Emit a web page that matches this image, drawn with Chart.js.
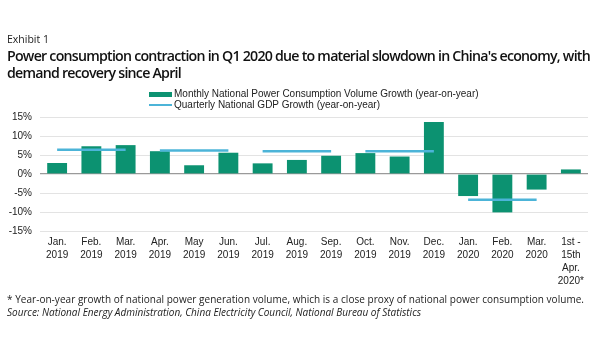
<!DOCTYPE html>
<html>
<head>
<meta charset="utf-8">
<script src="https://cdn.jsdelivr.net/npm/chart.js@4.4.1/dist/chart.umd.min.js"></script>
<style>
  html, body { margin: 0; padding: 0; background: #fff; }
  #wrap { position: relative; width: 600px; height: 360px; overflow: hidden; font-family: "Open Sans", "Lato", sans-serif; color: #000; }
  #chart { position: absolute; left: 0; top: 0; width: 600px; height: 360px; }
  .t { position: absolute; white-space: nowrap; }
  #exhibit { left: 7px; top: 32px; font-size: 10.5px; color: #222; }
  #title { left: 7px; top: 47px; font-size: 14.2px; font-weight: 600; line-height: 17px; color: #111; }
  .leg { position: absolute; left: 149px; font-family: "Liberation Sans", Arial, sans-serif; font-size: 10px; color: #222; white-space: nowrap; line-height: 11px; }
  .leg .sw { display: inline-block; width: 23px; vertical-align: middle; margin-right: 2px; }
  #foot1 { left: 7px; top: 292px; font-size: 10px; color: #222; }
  #foot2 { left: 7px; top: 305px; font-size: 10px; font-style: italic; color: #222; }
</style>
</head>
<body>
<div id="wrap">
  <canvas id="chart" width="600" height="360"></canvas>
  <div class="t" id="exhibit">Exhibit 1</div>
  <div class="t" id="title" data-fitchild="583"><span id="tl1">Power consumption contraction in Q1 2020 due to material slowdown in China's economy, with</span><br><span>demand recovery since April</span></div>
  <div class="leg" id="leg1" style="top:88px"></div>
  <div class="leg" id="leg2" style="top:99px"></div>
  <div class="t" id="foot1"><span data-fit="577">* Year-on-year growth of national power generation volume, which is a close proxy of national power consumption volume.</span></div>
  <div class="t" id="foot2"><span data-fit="414">Source: National Energy Administration, China Electricity Council, National Bureau of Statistics</span></div>
</div>
<script>
// ---- Data ----
const categories = [
  ["Jan.", "2019"], ["Feb.", "2019"], ["Mar.", "2019"], ["Apr.", "2019"],
  ["May", "2019"], ["Jun.", "2019"], ["Jul.", "2019"], ["Aug.", "2019"],
  ["Sep.", "2019"], ["Oct.", "2019"], ["Nov.", "2019"], ["Dec.", "2019"],
  ["Jan.", "2020"], ["Feb.", "2020"], ["Mar.", "2020"], ["1st -", "15th", "Apr.", "2020*"]
];
const powerGrowth = [2.9, 7.3, 7.6, 6.0, 2.3, 5.6, 2.8, 3.7, 4.8, 5.5, 4.6, 13.7, -5.8, -10.1, -4.1, 1.2];
const gdpGrowth   = [6.4, 6.4, 6.4, 6.2, 6.2, 6.2, 6.0, 6.0, 6.0, 6.0, 6.0, 6.0, -6.8, -6.8, -6.8, null];
const quarterOf   = [1, 1, 1, 2, 2, 2, 3, 3, 3, 4, 4, 4, 5, 5, 5, 6];
const yTicks = [-15, -10, -5, 0, 5, 10, 15];
const seriesNames = [
  "Monthly National Power Consumption Volume Growth (year-on-year)",
  "Quarterly National GDP Growth (year-on-year)"
];

const barColor = '#0c9271';
const lineColor = '#4cb4d8';

// legend (HTML)
document.getElementById('leg1').innerHTML =
  '<span class="sw" style="height:5px;background:' + barColor + '"></span>' + seriesNames[0];
document.getElementById('leg2').innerHTML =
  '<span class="sw" style="height:2px;background:' + lineColor + '"></span>' + seriesNames[1];

// fit text widths
document.querySelectorAll('[data-fit]').forEach(el => {
  const target = +el.dataset.fit;
  const w = el.getBoundingClientRect().width;
  const n = el.textContent.length;
  el.style.letterSpacing = ((target - w) / n).toFixed(3) + 'px';
});
(function () {
  const t = document.getElementById('title');
  const l1 = document.getElementById('tl1');
  const w = l1.getBoundingClientRect().width;
  t.style.letterSpacing = ((583 - w) / l1.textContent.length).toFixed(3) + 'px';
})();

const tickFont = { family: '"Liberation Sans", Arial, sans-serif', size: 10, lineHeight: 1.3 };

new Chart(document.getElementById('chart'), {
  data: {
    labels: categories,
    datasets: [
      {
        type: 'line',
        label: seriesNames[1],
        data: gdpGrowth,
        borderColor: lineColor,
        borderWidth: 2.5,
        pointRadius: 0,
        fill: false,
        order: 1,
        segment: {
          borderColor: ctx => quarterOf[ctx.p0DataIndex] === quarterOf[ctx.p1DataIndex] ? lineColor : 'rgba(0,0,0,0)'
        }
      },
      {
        type: 'bar',
        label: seriesNames[0],
        data: powerGrowth,
        backgroundColor: barColor,
        barPercentage: 0.58,
        categoryPercentage: 1,
        order: 2
      }
    ]
  },
  options: {
    responsive: false,
    animation: false,
    devicePixelRatio: 1,
    layout: { padding: { top: 117, right: 12, bottom: 69, left: 0 } },
    plugins: { legend: { display: false }, tooltip: { enabled: false } },
    scales: {
      x: {
        grid: { display: false, drawTicks: false },
        border: { display: false },
        ticks: { font: tickFont, color: '#222', maxRotation: 0, autoSkip: false, padding: 5 },
        afterFit: s => { s.height = 60; }
      },
      y: {
        min: -15, max: 15,
        afterBuildTicks: s => { s.ticks = yTicks.map(v => ({ value: v })); },
        grid: {
          drawTicks: false,
          color: ctx => ctx.tick && ctx.tick.value === 0 ? '#9a9a9a' : '#e3e3e3',
          lineWidth: ctx => ctx.tick && ctx.tick.value === 0 ? 1.2 : 1
        },
        border: { display: false },
        ticks: { font: { family: '"Liberation Sans", Arial, sans-serif', size: 10 }, color: '#222', padding: 8, callback: v => v + '%' },
        afterFit: s => { s.width = 40; }
      }
    }
  }
});
</script>
</body>
</html>
